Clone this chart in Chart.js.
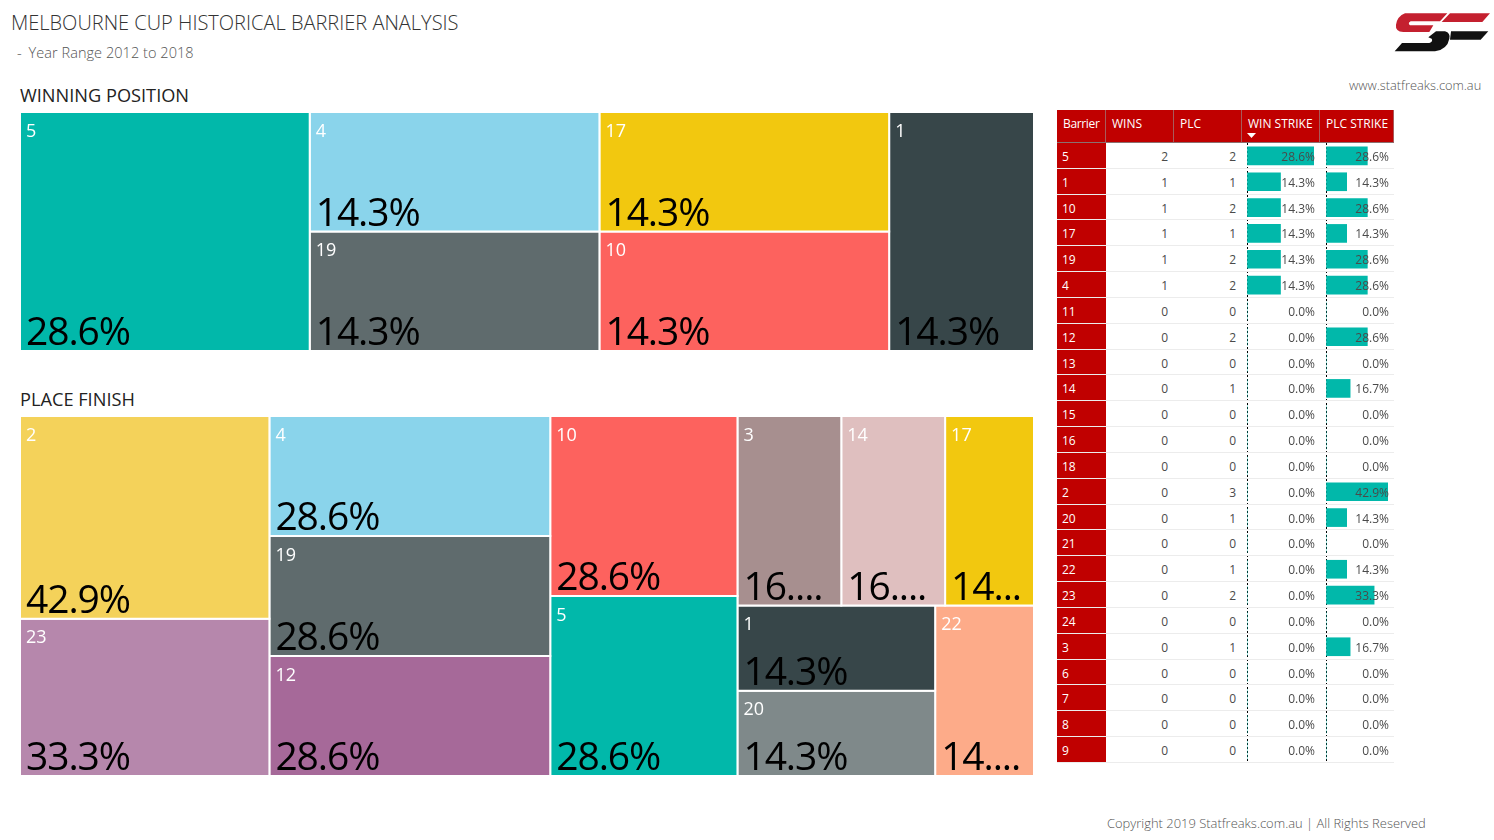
<!DOCTYPE html>
<html>
<head>
<meta charset="utf-8">
<title>Melbourne Cup Historical Barrier Analysis</title>
<script src="https://cdn.jsdelivr.net/npm/chart.js@4"></script>
<style>
  html, body { margin: 0; padding: 0; background: #fff; overflow: hidden; }
  body { width: 1494px; height: 840px; position: relative; font-family: "Open Sans", sans-serif; color: #333; }
  .txt { position: absolute; white-space: nowrap; line-height: 1; }
  canvas { position: absolute; }
  .cell { position: absolute; font-size: 12px; line-height: 28px; height: 26px; white-space: nowrap; color: #4a4a4a; }
  .num { text-align: right; }
  .side { background: #c00000; color: #fff; padding-left: 5px; box-sizing: border-box; }
  .rule { position: absolute; height: 1px; background: #ececec; z-index: 3; }
  .head { position: absolute; top: 110px; height: 33px; background: #c00000; color: #fff; font-size: 12px; line-height: 28px; box-sizing: border-box; padding-left: 6px; border-right: 1px solid #a85a5a; border-bottom: 1px solid #8a7070; white-space: nowrap; }
</style>
</head>
<body>
<div class="txt" style="left:11px;top:13px;font-size:20px;font-weight:300;color:#333">MELBOURNE CUP HISTORICAL BARRIER ANALYSIS</div>
<div class="txt" style="left:17px;top:46px;font-size:14.5px;font-weight:300;color:#555;letter-spacing:.05px"><span style="margin-right:3px">-</span> Year Range 2012 to 2018</div>
<div class="txt" style="left:20px;top:86px;font-size:18.2px;color:#222">WINNING POSITION</div>
<div class="txt" style="left:20px;top:390px;font-size:18.2px;color:#222">PLACE FINISH</div>
<div class="txt" style="left:1349px;top:79px;font-size:12.8px;font-weight:300;color:#555">www.statfreaks.com.au</div>
<div class="txt" style="left:1107px;top:817px;font-size:12.95px;font-weight:300;color:#555">Copyright 2019 Statfreaks.com.au | All Rights Reserved</div>

<svg style="position:absolute;left:1390px;top:8px" width="104" height="50" viewBox="0 0 312 150">
  <path fill="#c4202f" d="M45,16 L172,16 L150,40 L62,40 Q52,45 60,52 L130,52 L118,72 L40,72 Q15,70 18,50 Q22,25 45,16 Z"/>
  <path fill="#c4202f" d="M180,16 L300,16 L277,42 L155,42 Z"/>
  <path fill="#111" d="M138,70 L165,70 Q182,75 178,92 Q172,124 135,130 L14,130 L36,105 L118,105 Q130,100 125,92 L115,88 Z"/>
  <path fill="#111" d="M183,70 L295,70 L272,95 L180,95 Z"/>
</svg>

<canvas id="winMap" style="left:20px;top:112px" width="1014" height="239"></canvas>
<canvas id="placeMap" style="left:20px;top:416px" width="1014" height="360"></canvas>
<div id="table"></div>
<canvas id="winBars" style="left:1246px;top:143px;z-index:1" width="70" height="620"></canvas>
<canvas id="plcBars" style="left:1325px;top:143px;z-index:1" width="65" height="620"></canvas>

<script>
// treemap data
const winBarriers = ['5', '4', '19', '17', '10', '1'];
const winShares = [28.6, 14.3, 14.3, 14.3, 14.3, 14.3];
const winTree = [['5'], ['4', '19'], ['17', '10'], ['1']];

const placeBarriers = ['2', '23', '4', '19', '12', '10', '5', '3', '14', '17', '1', '20', '22'];
const placeShares = [42.9, 33.3, 28.6, 28.6, 28.6, 28.6, 28.6, 16.7, 16.7, 14.3, 14.3, 14.3, 14.3];
const placeTree = [['2', '23'], ['4', '19', '12'], ['10', '5'], [['3', '14', '17'], [['1', '20'], '22']]];

// table data
const barriers = ['5', '1', '10', '17', '19', '4', '11', '12', '13', '14', '15', '16', '18', '2', '20', '21', '22', '23', '24', '3', '6', '7', '8', '9'];
const wins = [2, 1, 1, 1, 1, 1, 0, 0, 0, 0, 0, 0, 0, 0, 0, 0, 0, 0, 0, 0, 0, 0, 0, 0];
const places = [2, 1, 2, 1, 2, 2, 0, 2, 0, 1, 0, 0, 0, 3, 1, 0, 1, 2, 0, 1, 0, 0, 0, 0];
const winStrike = [28.6, 14.3, 14.3, 14.3, 14.3, 14.3, 0, 0, 0, 0, 0, 0, 0, 0, 0, 0, 0, 0, 0, 0, 0, 0, 0, 0];
const plcStrike = [28.6, 14.3, 28.6, 14.3, 28.6, 28.6, 0, 28.6, 0, 16.7, 0, 0, 0, 42.9, 14.3, 0, 14.3, 33.3, 0, 16.7, 0, 0, 0, 0];

const barrierColors = {
  '5': '#01B8AA', '4': '#8AD4EB', '17': '#F2C80F', '19': '#5F6B6D', '10': '#FD625E', '1': '#374649',
  '2': '#F4D25A', '23': '#B687AC', '12': '#A66999', '3': '#A78F8F', '14': '#DFBFBF', '20': '#7F898A', '22': '#FDAB89'
};

const ROW_H = 25.83;
const FONT = '"Open Sans", sans-serif';

// sum of a tree node
function nodeTotal(node, values){
  if (Array.isArray(node)) {
    return node.reduce((s, n) => s + nodeTotal(n, values), 0);
  }
  return values[node];
}

// slice and dice, columns first then rows inside them
function layout(node, box, vertical, values, out){
  if (!Array.isArray(node)) {
    out.push({ name: node, value: values[node], box: box });
    return out;
  }
  let total = nodeTotal(node, values);
  let pos = vertical ? box.y0 : box.x0;
  node.forEach(n => {
    let part = nodeTotal(n, values) / total;
    if (vertical) {
      let h = (box.y1 - box.y0) * part;
      layout(n, { x0: box.x0, x1: box.x1, y0: pos, y1: pos + h }, false, values, out);
      pos += h;
    } else {
      let w = (box.x1 - box.x0) * part;
      layout(n, { x0: pos, x1: pos + w, y0: box.y0, y1: box.y1 }, true, values, out);
      pos += w;
    }
  });
  return out;
}

// cut the label like the report does when it does not fit
function fitText(ctx, text, maxW){
  if (ctx.measureText(text).width <= maxW) return text;
  let s = text;
  while (s.length > 1 && ctx.measureText(s + '...').width > maxW) s = s.slice(0, -1);
  return s + '...';
}

const cellLabels = {
  id: 'cellLabels',
  afterDatasetsDraw(chart){
    const { ctx, scales: { x, y } } = chart;
    ctx.save();
    chart.data.datasets.forEach(ds => {
      let left = x.getPixelForValue(ds.box.x0);
      let right = x.getPixelForValue(ds.box.x1);
      let top = y.getPixelForValue(ds.box.y0);
      let bottom = y.getPixelForValue(ds.box.y1);
      ctx.textAlign = 'left';
      ctx.textBaseline = 'alphabetic';
      ctx.fillStyle = '#fff';
      ctx.font = '18px ' + FONT;
      ctx.letterSpacing = '0px';
      ctx.fillText(ds.label, left + 6, Math.round(top + 24.6));
      ctx.fillStyle = '#000';
      ctx.font = '39px ' + FONT;
      ctx.letterSpacing = '-1.1px';
      ctx.fillText(fitText(ctx, ds.share.toFixed(1) + '%', right - left - 14), left + 6, bottom - 6);
    });
    ctx.restore();
  }
};

function drawTreemap(id, names, shares, tree){
  let values = {};
  names.forEach((n, i) => values[n] = shares[i]);
  let cells = layout(tree, { x0: 0, x1: 1, y0: 0, y1: 1 }, false, values, []);
  new Chart(document.getElementById(id), {
    type: 'scatter',
    data: {
      datasets: cells.map(c => ({
        label: c.name,
        share: c.value,
        box: c.box,
        data: [
          { x: c.box.x0, y: c.box.y0 }, { x: c.box.x1, y: c.box.y0 },
          { x: c.box.x1, y: c.box.y1 }, { x: c.box.x0, y: c.box.y1 },
          { x: c.box.x0, y: c.box.y0 }
        ],
        showLine: true,
        fill: 'shape',
        tension: 0,
        pointRadius: 0,
        backgroundColor: barrierColors[c.name],
        borderColor: '#fff',
        borderWidth: 2
      }))
    },
    options: {
      responsive: false,
      animation: false,
      layout: { padding: 0 },
      plugins: { legend: { display: false }, tooltip: { enabled: false } },
      scales: {
        x: { type: 'linear', min: 0, max: 1, display: false },
        y: { type: 'linear', min: 0, max: 1, reverse: true, display: false }
      }
    },
    plugins: [cellLabels]
  });
}

function drawBars(id, values, max){
  new Chart(document.getElementById(id), {
    type: 'bar',
    data: {
      labels: barriers,
      datasets: [{ data: values, backgroundColor: '#01B8AA', barThickness: 18 }]
    },
    options: {
      indexAxis: 'y',
      responsive: false,
      animation: false,
      layout: { padding: { left: 1, right: 2, top: 0, bottom: 0 } },
      plugins: { legend: { display: false }, tooltip: { enabled: false } },
      scales: {
        x: {
          min: 0,
          max: max,
          ticks: { display: false, stepSize: max },
          // the dashed zero line of the data bar column
          grid: { color: c => c.tick.value === 0 ? '#000' : 'transparent', drawTicks: false, lineWidth: 1 },
          border: { display: false, dash: [2, 2] }
        },
        y: {
          ticks: { display: false },
          grid: { display: false, drawTicks: false },
          border: { display: false }
        }
      }
    }
  });
}

function addCell(text, left, width, top, cls, z){
  let d = document.createElement('div');
  d.className = 'cell ' + cls;
  d.textContent = text;
  d.style.left = left + 'px';
  d.style.width = width + 'px';
  d.style.top = top + 'px';
  if (z) d.style.zIndex = z;
  document.getElementById('table').appendChild(d);
}

function buildTable(){
  let table = document.getElementById('table');
  let heads = [['Barrier', 1057, 49, -0.35], ['WINS', 1106, 68, 0], ['PLC', 1174, 68, 0], ['WIN STRIKE', 1242, 78, 0], ['PLC STRIKE', 1320, 74, 0]];
  let html = '';
  heads.forEach(h => {
    html += `<div class="head" style="left:${h[1]}px;width:${h[2]}px;letter-spacing:${h[3]}px">${h[0]}</div>`;
  });
  html += '<svg style="position:absolute;left:1247px;top:133px" width="10" height="5"><path d="M0,0 L9,0 L4.5,5 Z" fill="#fff"/></svg>';
  table.innerHTML = html;

  for(var i=0;i<barriers.length;i++){
    let top = 143 + i * ROW_H;
    addCell(barriers[i], 1057, 49, top, 'side');
    addCell(wins[i], 1106, 62, top, 'num');
    addCell(places[i], 1174, 62, top, 'num');
    addCell(winStrike[i].toFixed(1) + '%', 1242, 73, top, 'num', 2);
    addCell(plcStrike[i].toFixed(1) + '%', 1320, 69, top, 'num', 2);
    let rule = document.createElement('div');
    rule.className = 'rule';
    rule.style.left = '1057px';
    rule.style.width = '337px';
    rule.style.top = (top + ROW_H - 1) + 'px';
    table.appendChild(rule);
  }
}

buildTable();
drawTreemap('winMap', winBarriers, winShares, winTree);
drawTreemap('placeMap', placeBarriers, placeShares, placeTree);
drawBars('winBars', winStrike, 28.6);
drawBars('plcBars', plcStrike, 42.9);
</script>
</body>
</html>
